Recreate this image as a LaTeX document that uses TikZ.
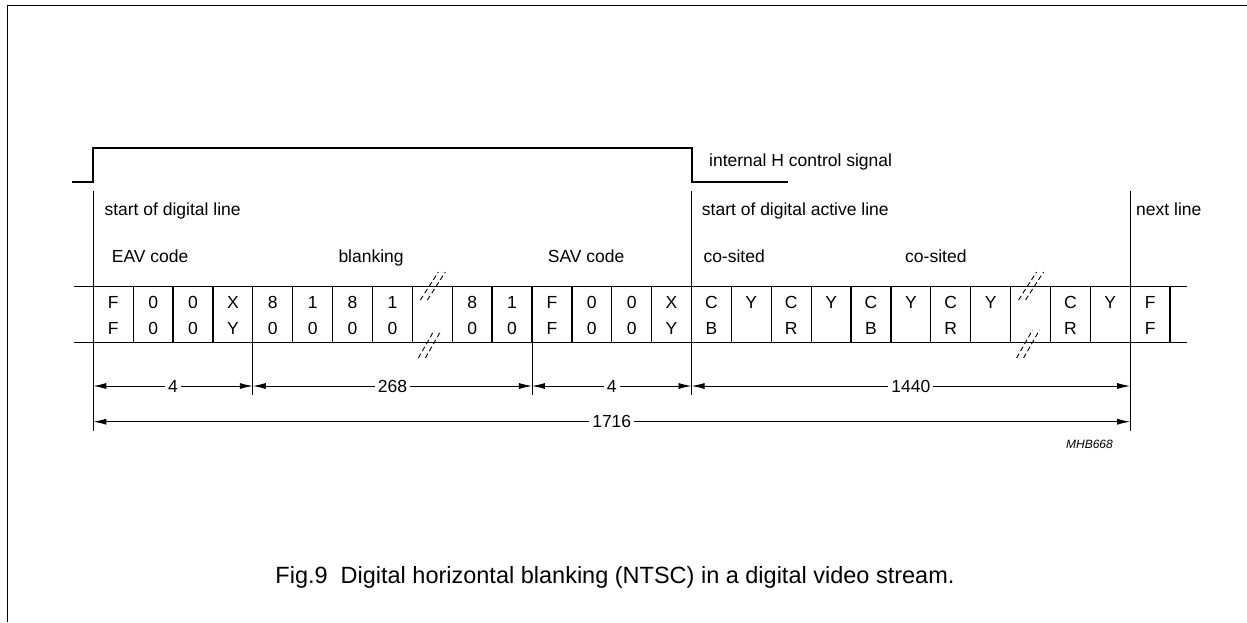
\documentclass[tikz,border=0pt]{standalone}
\usepackage{fontspec}
\setmainfont{Liberation Sans}
\usetikzlibrary{arrows.meta}
\begin{document}
\begin{tikzpicture}[x=1pt,y=-1pt,
  font=\fontsize{17.5}{21}\selectfont,
  lbl/.style={anchor=base west,inner sep=0pt},
  celltxt/.style={anchor=base,inner sep=0pt},
  rowline/.style={line width=1.3pt},
  marker/.style={line width=0.9pt},
  sig/.style={line width=2.2pt},
  frameline/.style={line width=1.6pt},
  dimline/.style={line width=0.9pt,{Latex[length=13pt,width=6pt]}-{Latex[length=13pt,width=6pt]}},
  dimlbl/.style={fill=white,inner sep=3pt},
  brk/.style={line width=0.9pt,dash pattern=on 5pt off 3pt}]
\useasboundingbox (0,0) rectangle (1247,622);
\def\xo{93.3}\def\cw{39.88}
% frame
\draw[frameline] (7.3,622) -- (7.3,5.3) -- (1247,5.3);
% control signal
\draw[sig] (72,181.7) -- (\xo,181.7) -- (\xo,148.3) -- (691.7,148.3) -- (691.7,181.7) -- (788,181.7);
\node[lbl] (hsig) at (709,166.5) {internal H control signal};
% row lines
\draw[rowline] (74,286.7) -- (1186.7,286.7);
\draw[rowline] (74,342.7) -- (1186.7,342.7);
\foreach \k in {0,...,27}
  \draw[rowline] ({\xo+\k*\cw},286.7) -- ({\xo+\k*\cw},342.7);
% cell texts
\foreach \k/\a/\b in {0/F/F,1/0/0,2/0/0,3/X/Y,4/8/0,5/1/0,6/8/0,7/1/0,9/8/0,10/1/0,
  11/F/F,12/0/0,13/0/0,14/X/Y,15/C/B,16/Y/{},17/C/R,18/Y/{},19/C/B,20/Y/{},21/C/R,22/Y/{},
  24/C/R,25/Y/{},26/F/F}{
  \node[celltxt] (c\k a) at ({\xo+(\k+0.5)*\cw},308.5) {\a};
  \node[celltxt] (c\k b) at ({\xo+(\k+0.5)*\cw},334.5) {\b};
}
% break marks
\foreach \k in {8,23}{
  \pgfmathsetmacro{\c}{\xo+\k*\cw}
  \draw[brk] (\c+8,300) -- (\c+26,272);
  \draw[brk] (\c+15,300) -- (\c+33,272);
  \draw[brk] (\c+6,358) -- (\c+22,330);
  \draw[brk] (\c+13,358) -- (\c+29,330);
}
% marker / extension lines
\coordinate (m0t) at (\xo,191);
\coordinate (m0b) at (\xo,431);
\coordinate (m15t) at ({\xo+15*\cw},191);
\coordinate (m15b) at ({\xo+15*\cw},395);
\coordinate (m26t) at ({\xo+26*\cw},191);
\coordinate (m26b) at ({\xo+26*\cw},431);
\coordinate (m4t) at ({\xo+4*\cw},342.7);
\coordinate (m4b) at ({\xo+4*\cw},395);
\coordinate (m11t) at ({\xo+11*\cw},342.7);
\coordinate (m11b) at ({\xo+11*\cw},395);
\draw[marker] (m0t) -- (m0b);
\draw[marker] (m15t) -- (m15b);
\draw[marker] (m26t) -- (m26b);
\draw[marker] (m4t) -- (m4b);
\draw[marker] (m11t) -- (m11b);
% labels
\node[lbl] (sdl) at (104.3,215.5) {start of digital line};
\node[lbl] (sdal) at (701.7,215.5) {start of digital active line};
\node[lbl] (nl) at (1136,215.5) {next line};
\node[lbl] (eav) at (111.7,262.5) {EAV code};
\node[lbl] (blk) at (338.3,262.5) {blanking};
\node[lbl] (sav) at (547.7,262.5) {SAV code};
\node[lbl] (cs1) at (703.3,262.5) {co-sited};
\node[lbl] (cs2) at (905,262.5) {co-sited};
% dimensions
\foreach \k in {0,4,11,15,26}
  \coordinate (d\k) at ({\xo+\k*\cw},386);
\coordinate (e0) at (\xo,421.7);
\coordinate (e26) at ({\xo+26*\cw},421.7);
\draw[dimline] (d0) -- (d4) node[midway,dimlbl] (n4a) {4};
\draw[dimline] (d4) -- (d11) node[midway,dimlbl] (n268) {268};
\draw[dimline] (d11) -- (d15) node[midway,dimlbl] (n4b) {4};
\draw[dimline] (d15) -- (d26) node[midway,dimlbl] (n1440) {1440};
\draw[dimline] (e0) -- (e26) node[midway,dimlbl] (n1716) {1716};
\node[anchor=base east,inner sep=0pt,font=\fontsize{12}{14}\selectfont\itshape] (code) at (1113,448) {MHB668};
% caption
\node[anchor=base,inner sep=0pt,font=\fontsize{23.5}{28}\selectfont] (cap) at (615,583) {Fig.9\hspace{0.55em}Digital horizontal blanking (NTSC) in a digital video stream.};
\end{tikzpicture}
\end{document}
